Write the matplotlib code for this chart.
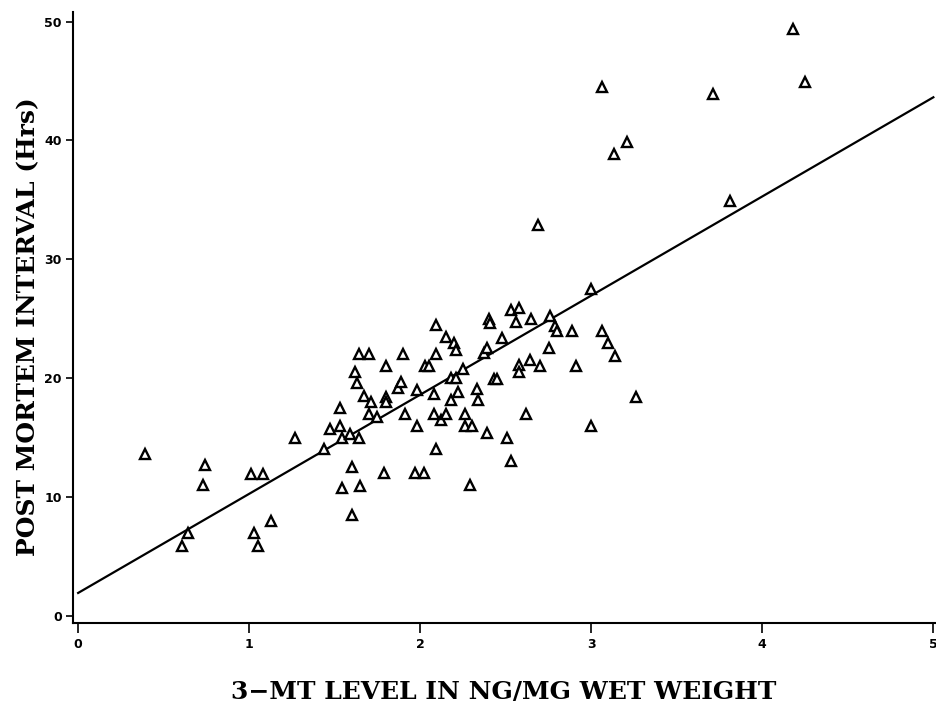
import matplotlib.pyplot as plt

# 3-MT level (ng/mg wet weight) vs post mortem interval (hrs)
mt_level = [
    0.39, 0.61, 0.64, 0.73, 0.74, 1.01, 1.08, 1.03, 1.05, 1.13,
    1.27, 1.44, 1.47, 1.53, 1.53, 1.54, 1.54, 1.59, 1.60, 1.60,
    1.62, 1.63, 1.64, 1.64, 1.65, 1.67, 1.70, 1.70, 1.71, 1.75,
    1.79, 1.80, 1.80, 1.80, 1.87, 1.89, 1.90, 1.91, 1.97, 1.98,
    1.98, 2.02, 2.03, 2.05, 2.08, 2.08, 2.09, 2.09, 2.09, 2.12,
    2.15, 2.15, 2.18, 2.18, 2.20, 2.21, 2.21, 2.22, 2.25, 2.26,
    2.26, 2.29, 2.30, 2.33, 2.34, 2.37, 2.39, 2.39, 2.40, 2.41,
    2.43, 2.45, 2.48, 2.51, 2.53, 2.53, 2.56, 2.58, 2.58, 2.58,
    2.62, 2.64, 2.65, 2.69, 2.70, 2.75, 2.76, 2.79, 2.80, 2.89,
    2.91, 3.00, 3.00, 3.06, 3.06, 3.10, 3.13, 3.14, 3.21, 3.26,
    3.71, 3.81, 4.18, 4.25,
]
pmi_hrs = [
    13.6, 5.9, 7.0, 11.0, 12.7, 11.9, 11.9, 7.0, 5.9, 8.0,
    15.0, 14.0, 15.7, 17.5, 16.0, 15.0, 10.8, 15.3, 12.5, 8.5,
    20.5, 19.6, 22.0, 15.0, 10.9, 18.5, 22.0, 17.0, 18.0, 16.7,
    12.0, 21.0, 18.4, 18.0, 19.2, 19.7, 22.0, 17.0, 12.0, 16.0,
    19.0, 12.0, 21.0, 21.0, 18.7, 17.0, 14.0, 22.0, 24.5, 16.5,
    17.0, 23.5, 20.0, 18.2, 23.0, 22.4, 20.0, 18.8, 20.8, 17.0,
    16.0, 11.0, 16.0, 19.1, 18.2, 22.1, 22.5, 15.4, 25.0, 24.6,
    19.9, 19.9, 23.4, 15.0, 13.0, 25.7, 24.7, 25.9, 21.1, 20.5,
    17.0, 21.5, 25.0, 32.9, 21.0, 22.5, 25.2, 24.4, 24.0, 24.0,
    21.0, 27.5, 16.0, 44.5, 24.0, 23.0, 38.9, 21.9, 39.9, 18.4,
    43.9, 34.9, 49.4, 44.9,
]

# fitted regression line
fit_intercept = 1.93
fit_slope = 8.34
fit_x = [0, 5]
fit_y = [fit_intercept + fit_slope * x for x in fit_x]

x_ticks = [0, 1, 2, 3, 4, 5]
y_ticks = [0, 10, 20, 30, 40, 50]

label_font = dict(family='DejaVu Serif', fontsize=18, fontweight='bold')
tick_font = dict(family='DejaVu Sans', fontsize=9, fontweight='bold')

fig = plt.figure(figsize=(9.36, 7.10), dpi=100)
ax = fig.add_axes([0.078, 0.1225, 0.921, 0.8605])

ax.plot(fit_x, fit_y, color='black', linewidth=1.6)
ax.plot(mt_level, pmi_hrs, linestyle='none', marker='^', markersize=7,
        markerfacecolor='white', markeredgecolor='black', markeredgewidth=1.7)

ax.set_xlim(-0.03, 5.01)
ax.set_ylim(-0.6, 50.8)
ax.spines['top'].set_visible(False)
ax.spines['right'].set_visible(False)
for s in ['left', 'bottom']:
    ax.spines[s].set_linewidth(1.5)

ax.set_xticks(x_ticks)
ax.set_yticks(y_ticks)
ax.set_xticklabels([str(t) for t in x_ticks], **tick_font)
ax.set_yticklabels([str(t) for t in y_ticks], **tick_font)
ax.tick_params(axis='x', direction='out', length=7, width=1.2, pad=4)
ax.tick_params(axis='y', direction='out', length=5, width=1.2, pad=3)

ax.set_xlabel('3\u2212MT LEVEL IN NG/MG WET WEIGHT', va='center', **label_font)
ax.set_ylabel('POST MORTEM INTERVAL (Hrs)', va='center', **label_font)
ax.xaxis.set_label_coords(0.5, -0.113)
ax.yaxis.set_label_coords(-0.052, 0.485)

fig.savefig('out.png', dpi=100)
